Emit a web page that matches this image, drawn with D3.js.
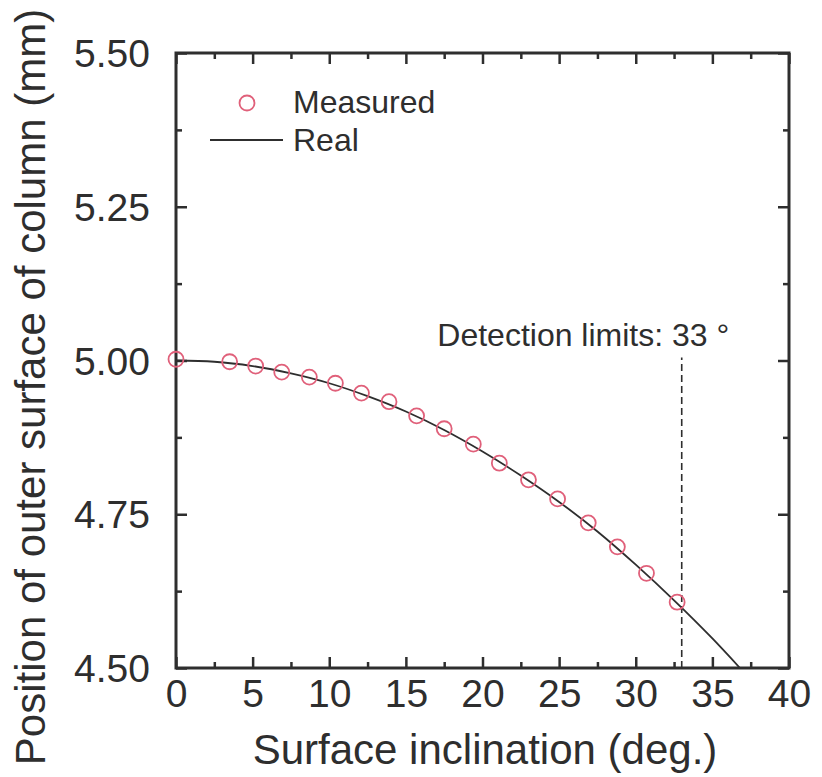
<!DOCTYPE html>
<html>
<head>
<meta charset="utf-8">
<script src="https://cdn.jsdelivr.net/npm/d3@7"></script>
<style>
  html, body { margin: 0; padding: 0; background: #fff; }
  svg { display: block; font-family: "Liberation Sans", Arial, sans-serif; }
</style>
</head>
<body>
<svg id="chart" width="822" height="777"></svg>
<script>
// Measured positions of the column surface against surface inclination
const measuredAngle = [0, 3.5, 5.2, 6.9, 8.7, 10.4, 12.1, 13.9, 15.7, 17.5, 19.4, 21.1, 23.0, 24.9, 26.9, 28.8, 30.7, 32.7];
const measuredPos   = [5.002, 4.998, 4.991, 4.981, 4.973, 4.963, 4.947, 4.933, 4.910, 4.889, 4.864, 4.833, 4.806, 4.775, 4.736, 4.697, 4.654, 4.607];

// Real surface position
const realAngle = [0, 2.5, 5, 7.5, 10, 12.5, 15, 17.5, 20, 22.5, 25, 27.5, 30, 32.5, 35, 36.8];
const realPos   = [5.000, 4.998, 4.991, 4.979, 4.963, 4.942, 4.917, 4.887, 4.852, 4.813, 4.770, 4.722, 4.668, 4.610, 4.548, 4.500];

const xTicks = [0, 5, 10, 15, 20, 25, 30, 35, 40];
const yTicks = [4.50, 4.75, 5.00, 5.25, 5.50];
const detectionLimit = 33;

const margin = { left: 176, top: 53, right: 33, bottom: 109 };
const W = 822, H = 777;
const iw = W - margin.left - margin.right;
const ih = H - margin.top - margin.bottom;

const svg = d3.select("#chart");
const g = svg.append("g").attr("transform", `translate(${margin.left},${margin.top})`);

const x = d3.scaleLinear().domain([0, 40]).range([0, iw]);
const y = d3.scaleLinear().domain([4.5, 5.5]).range([ih, 0]);

const ink = "#2e2e2e";
const tickFs = 39;

svg.append("defs").append("clipPath").attr("id", "plot")
  .append("rect").attr("width", iw).attr("height", ih);

// minor tick positions; majors carry labels
const xMinor = d3.range(0, 40.01, 2.5);
const yMinor = d3.range(4.5, 5.501, 0.125);
const isMajorX = v => xTicks.some(t => Math.abs(t - v) < 1e-6);
const isMajorY = v => yTicks.some(t => Math.abs(t - v) < 1e-6);

function axisStyle(sel) {
  sel.select(".domain").remove();
  sel.selectAll(".tick line").attr("stroke", ink).attr("stroke-width", 2.5);
  sel.selectAll(".tick text").attr("fill", ink).style("font-size", tickFs + "px");
}

// inward ticks on all four sides
g.append("g").attr("transform", `translate(0,${ih})`)
  .call(d3.axisBottom(x).tickValues(xMinor).tickSizeInner(0).tickSizeOuter(0)
    .tickFormat(d => isMajorX(d) ? d3.format("d")(d) : ""))
  .call(axisStyle)
  .call(s => s.selectAll(".tick line").attr("y2", d => isMajorX(d) ? -11 : -6))
  .call(s => s.selectAll(".tick text").attr("dy", "0.71em").attr("y", 11));

g.append("g")
  .call(d3.axisTop(x).tickValues(xMinor).tickSizeInner(0).tickSizeOuter(0).tickFormat(""))
  .call(axisStyle)
  .call(s => s.selectAll(".tick line").attr("y2", d => isMajorX(d) ? 11 : 6));

g.append("g")
  .call(d3.axisLeft(y).tickValues(yMinor).tickSizeInner(0).tickSizeOuter(0)
    .tickFormat(d => isMajorY(d) ? d3.format(".2f")(d) : ""))
  .call(axisStyle)
  .call(s => s.selectAll(".tick line").attr("x2", d => isMajorY(d) ? 11 : 6))
  .call(s => s.selectAll(".tick text").attr("x", -26).attr("dy", "0.35em"));

g.append("g").attr("transform", `translate(${iw},0)`)
  .call(d3.axisRight(y).tickValues(yMinor).tickSizeInner(0).tickSizeOuter(0).tickFormat(""))
  .call(axisStyle)
  .call(s => s.selectAll(".tick line").attr("x2", d => isMajorY(d) ? -11 : -6));

// frame
g.append("rect").attr("width", iw).attr("height", ih)
  .attr("fill", "none").attr("stroke", ink).attr("stroke-width", 3);

// detection limit marker
g.append("line")
  .attr("x1", x(detectionLimit)).attr("x2", x(detectionLimit))
  .attr("y1", ih).attr("y2", y(5.005))
  .attr("stroke", ink).attr("stroke-width", 1.6).attr("stroke-dasharray", "7,4");

g.append("text")
  .attr("x", x(17.05)).attr("y", y(5.023))
  .attr("fill", ink).style("font-size", "32px")
  .text(`Detection limits: ${detectionLimit} °`);

const plot = g.append("g").attr("clip-path", "url(#plot)");

// real surface curve
const realData = realAngle.map((a, i) => [a, realPos[i]]);
plot.append("path").datum(realData)
  .attr("fill", "none").attr("stroke", ink).attr("stroke-width", 1.8)
  .attr("d", d3.line().x(d => x(d[0])).y(d => y(d[1])).curve(d3.curveMonotoneX));

// measured points
const measData = measuredAngle.map((a, i) => [a, measuredPos[i]]);
g.append("g").selectAll("circle").data(measData).join("circle")
  .attr("cx", d => x(d[0])).attr("cy", d => y(d[1])).attr("r", 7.5)
  .attr("fill", "none").attr("stroke", "#e0607a").attr("stroke-width", 1.8);

// legend
const lg = g.append("g");
lg.append("circle").attr("cx", 71).attr("cy", 50).attr("r", 7.5)
  .attr("fill", "none").attr("stroke", "#e0607a").attr("stroke-width", 1.8);
lg.append("text").attr("x", 117).attr("y", 60).attr("fill", ink)
  .style("font-size", "32px").text("Measured");
lg.append("line").attr("x1", 34).attr("x2", 107).attr("y1", 87).attr("y2", 87)
  .attr("stroke", ink).attr("stroke-width", 1.8);
lg.append("text").attr("x", 117).attr("y", 98).attr("fill", ink)
  .style("font-size", "32px").text("Real");

// axis titles
svg.append("text")
  .attr("x", 485).attr("y", 764)
  .attr("text-anchor", "middle").attr("fill", ink).style("font-size", "42px")
  .text("Surface inclination (deg.)");

svg.append("text")
  .attr("transform", `translate(45,387) rotate(-90)`)
  .attr("text-anchor", "middle").attr("fill", ink).style("font-size", "42px")
  .text("Position of outer surface of column (mm)");
</script>
</body>
</html>
